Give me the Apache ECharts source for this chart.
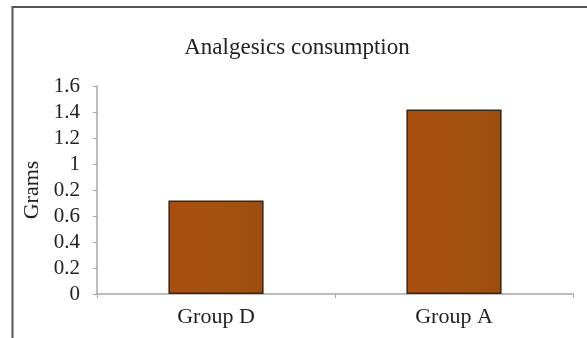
<!DOCTYPE html>
<html>
<head>
<meta charset="utf-8">
<script src="https://cdn.jsdelivr.net/npm/echarts@6/dist/echarts.min.js"></script>
<style>html,body{margin:0;padding:0;background:#fff}#c{width:587px;height:338px}</style>
</head>
<body>
<div id="c"></div>
<script>
var categories = ['Group D', 'Group A'];
var grams = [0.72, 1.42];
var yTickLabels = ['0', '0.2', '0.4', '0.6', '0.2', '1', '1.2', '1.4', '1.6'];
var titleText = 'Analgesics consumption';
var yAxisName = 'Grams';

var chart = echarts.init(document.getElementById('c'), null, {renderer: 'canvas'});
var FONT = '"Liberation Serif", "DejaVu Serif", serif';
chart.setOption({
  backgroundColor: '#fff',
  animation: false,
  title: {
    text: titleText,
    left: 292, top: 31, textAlign: 'center',
    textStyle: {fontFamily: FONT, fontSize: 23, fontWeight: 'normal', color: '#222'}
  },
  graphic: [
    {type: 'line', shape: {x1: 12.5, y1: 6, x2: 12.5, y2: 338}, style: {stroke: '#555', lineWidth: 2}},
    {type: 'line', shape: {x1: 12, y1: 7, x2: 587, y2: 7}, style: {stroke: '#555', lineWidth: 2}}
  ],
  grid: {left: 97, right: 14, top: 86, bottom: 44},
  xAxis: {
    type: 'category',
    data: categories,
    axisLine: {lineStyle: {color: '#a8a8a8', width: 1.5}},
    axisTick: {show: true, length: 4, lineStyle: {color: '#a8a8a8'}},
    axisLabel: {fontFamily: FONT, fontSize: 22, color: '#222', margin: 12}
  },
  yAxis: {
    type: 'value',
    min: 0, max: 1.6, interval: 0.2,
    name: yAxisName,
    nameLocation: 'middle',
    nameGap: 46,
    nameRotate: 90,
    nameTextStyle: {fontFamily: FONT, fontSize: 22, color: '#222'},
    splitLine: {show: false},
    axisLine: {show: true, lineStyle: {color: '#a8a8a8', width: 1.5}},
    axisTick: {show: true, length: 4, lineStyle: {color: '#a8a8a8'}},
    axisLabel: {
      fontFamily: FONT, fontSize: 21, color: '#222', margin: 17,
      formatter: function (v) { return yTickLabels[Math.round(v / 0.2)]; }
    }
  },
  series: [{
    type: 'bar',
    data: grams,
    barWidth: '40%',
    itemStyle: {
      color: new echarts.graphic.LinearGradient(0, 0, 1, 0, [
        {offset: 0, color: '#A94F10'},
        {offset: 0.5, color: '#A4520F'},
        {offset: 1, color: '#9C4E10'}
      ]),
      borderColor: '#3a2614',
      borderWidth: 1.5
    }
  }]
});
</script>
</body>
</html>
